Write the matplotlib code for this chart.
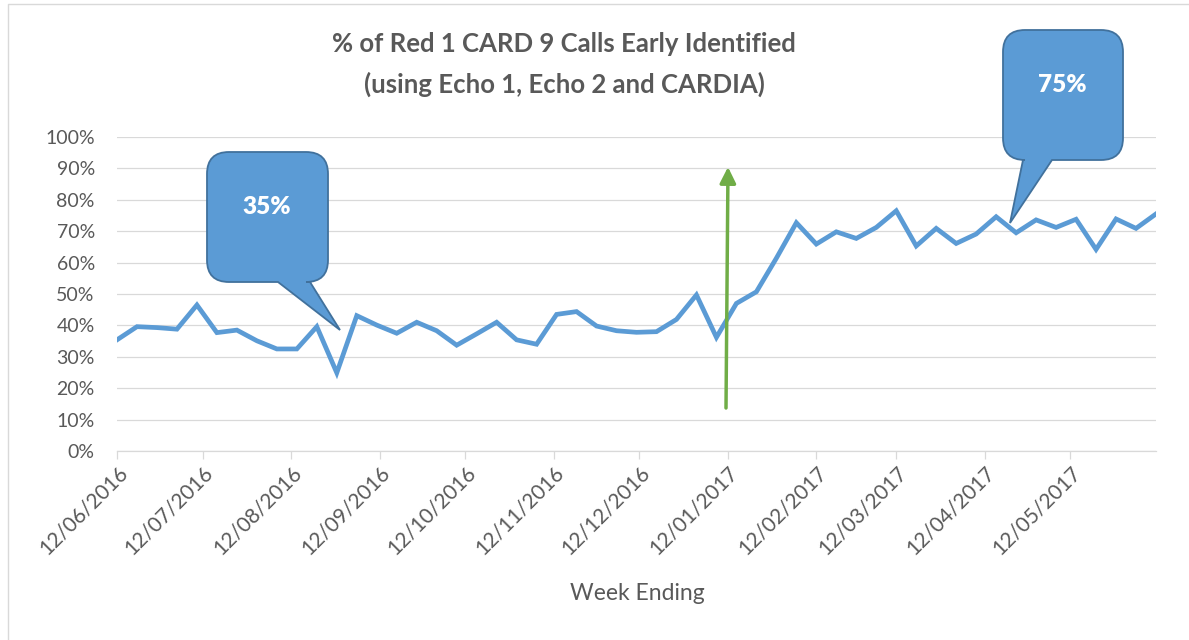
import numpy as np
import pandas as pd
import matplotlib
matplotlib.use("Agg")
import matplotlib.pyplot as plt
import matplotlib.dates as mdates
from matplotlib.path import Path
from matplotlib.patches import PathPatch
from matplotlib.ticker import PercentFormatter

plt.rcParams["font.family"] = ["Lato", "DejaVu Sans"]

# weekly data, week ending Sunday
first_week = "2016-06-12"
n_weeks = 53
pct_identified = [
    35.4, 39.6, 39.3, 38.8, 46.5, 37.7, 38.5, 35.1, 32.5, 32.5,
    39.6, 24.9, 43.1, 40.1, 37.5, 41.0, 38.3, 33.7, 37.3, 41.0,
    35.4, 34.0, 43.5, 44.4, 39.8, 38.3, 37.8, 38.0, 41.9, 49.7,
    36.2, 47.0, 50.7, 61.4, 72.7, 65.9, 69.8, 67.7, 71.2, 76.5,
    65.3, 70.9, 66.1, 69.1, 74.6, 69.5, 73.6, 71.2, 73.8, 64.2,
    73.9, 70.9, 75.5,
]
callout_labels = ["35%", "75%"]

title_lines = ["% of Red 1 CARD 9 Calls Early Identified",
               "(using Echo 1, Echo 2 and CARDIA)"]

weeks = pd.date_range(first_week, periods=n_weeks, freq="7D")
values = np.array(pct_identified) / 100

W, H = 1189, 640
fig = plt.figure(figsize=(W / 100, H / 100), dpi=100)
fig.patch.set_facecolor("white")

# plot area in pixels: left 117, right 1156, top 137, bottom 451
ax = fig.add_axes([117 / W, (H - 451) / H, (1156 - 117) / W, (451 - 137) / H])
ax.plot(weeks, values, color="#5B9BD5", lw=3.4, solid_joinstyle="miter", zorder=3)

ax.set_ylim(0, 1)
ax.set_yticks(np.arange(0, 1.01, 0.1))
ax.yaxis.set_major_formatter(PercentFormatter(1.0, decimals=0))
ax.set_xlim(weeks[0], weeks[-1])
ax.xaxis.set_major_locator(mdates.MonthLocator(bymonthday=12))
ax.xaxis.set_major_formatter(mdates.DateFormatter("%d/%m/%Y"))

ax.grid(axis="y", color="#D9D9D9", lw=0.9)
ax.set_axisbelow(True)
for s in ["top", "right", "left"]:
    ax.spines[s].set_visible(False)
ax.spines["bottom"].set_color("#D9D9D9")
ax.spines["bottom"].set_linewidth(0.9)

ax.tick_params(axis="y", length=0, pad=16, labelsize=14, labelcolor="#595959")
ax.tick_params(axis="x", length=6, width=0.9, color="#D9D9D9", pad=2,
               labelsize=15, labelcolor="#595959")
for lab in ax.get_xticklabels():
    lab.set_rotation(45)
    lab.set_ha("right")
    lab.set_va("top")
    lab.set_rotation_mode("anchor")

fig.text(637 / W, 1 - 593 / H, "Week Ending", ha="center", va="center",
         fontsize=16.5, color="#595959")

fig.text(564 / W, 1 - 44 / H, title_lines[0], ha="center", va="center",
         fontsize=18.5, fontweight="bold", color="#595959")
fig.text(564 / W, 1 - 84 / H, title_lines[1], ha="center", va="center",
         fontsize=18.5, fontweight="bold", color="#595959")

# overlay in pixel coordinates for the drawn shapes
ov = fig.add_axes([0, 0, 1, 1], zorder=5)
ov.set_xlim(0, W)
ov.set_ylim(H, 0)
ov.axis("off")
ov.patch.set_alpha(0)

# chart border (partly cropped in the original)
ov.plot([8, 8, W], [H, 4, 4], color="#D9D9D9", lw=1)


def callout(x0, y0, x1, y1, r, bx0, bx1, tip):
    verts = [
        (x0 + r, y0), (x1 - r, y0), (x1, y0), (x1, y0 + r),
        (x1, y1 - r), (x1, y1), (x1 - r, y1),
        (bx1, y1), tip, (bx0, y1),
        (x0 + r, y1), (x0, y1), (x0, y1 - r),
        (x0, y0 + r), (x0, y0), (x0 + r, y0),
        (x0 + r, y0),
    ]
    codes = [
        Path.MOVETO, Path.LINETO, Path.CURVE3, Path.CURVE3,
        Path.LINETO, Path.CURVE3, Path.CURVE3,
        Path.LINETO, Path.LINETO, Path.LINETO,
        Path.LINETO, Path.CURVE3, Path.CURVE3,
        Path.LINETO, Path.CURVE3, Path.CURVE3,
        Path.CLOSEPOLY,
    ]
    ov.add_patch(PathPatch(Path(verts, codes), facecolor="#5B9BD5",
                           edgecolor="#41719C", lw=1.3))


callout(207, 152, 328, 282, 22, 278, 310, (340, 330))
ov.text(267, 207, callout_labels[0], ha="center", va="center", color="white",
        fontsize=17.5, fontweight="heavy")

callout(1003, 30, 1123, 160, 22, 1023, 1052, (1010, 223))
ov.text(1062, 85, callout_labels[1], ha="center", va="center", color="white",
        fontsize=17.5, fontweight="heavy")

# green arrow marking the change
ov.annotate("", xy=(728, 167), xytext=(726, 408),
            arrowprops=dict(arrowstyle="-|>", color="#70AD47", lw=2.5,
                            mutation_scale=24, shrinkA=0, shrinkB=0))

fig.savefig("out.png", dpi=100)
